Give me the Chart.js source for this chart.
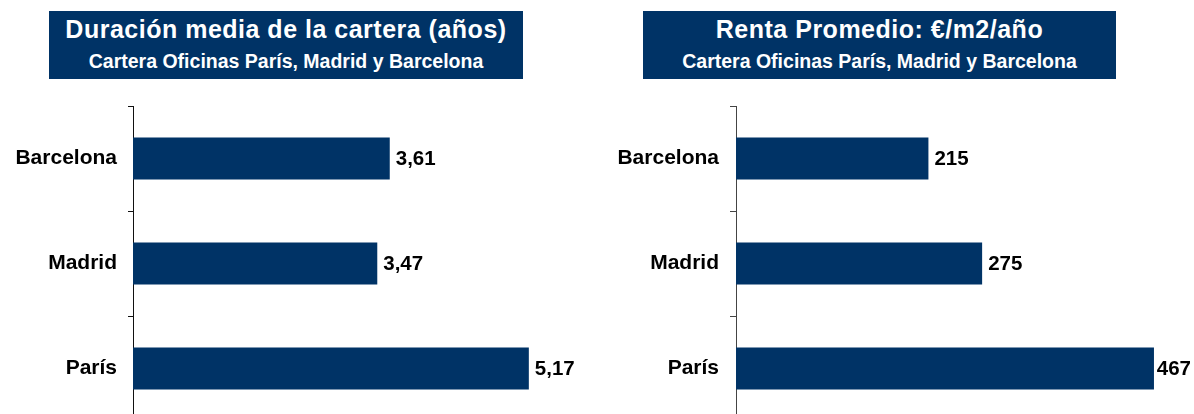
<!DOCTYPE html>
<html>
<head>
<meta charset="utf-8">
<script src="https://cdn.jsdelivr.net/npm/chart.js@4/dist/chart.umd.min.js"></script>
<style>
    html, body {
        margin: 0;
        width: 1194px;
        height: 414px;
        overflow: hidden;
        background: #fff;
        font-family: 'Liberation Sans', Arial, sans-serif;
    }
    .panel {
        position: absolute;
        top: 0;
        width: 597px;
        height: 430px;
    }
    .title-box {
        position: absolute;
        top: 11px;
        height: 68px;
        background: #003366;
        color: #fff;
        font-weight: bold;
        text-align: center;
        z-index: 2;
    }
    .title-box .main {
        padding-top: 3px;
        font-size: 25px;
        line-height: 30px;
        letter-spacing: 0.5px;
    }
    .title-box .sub {
        font-size: 19.5px;
        line-height: 34px;
    }
</style>
</head>
<body>
<div class="title-box" style="left: 49px; width: 474px;">
    <div class="main">Duración media de la cartera (años)</div>
    <div class="sub">Cartera Oficinas París, Madrid y Barcelona</div>
</div>
<div class="title-box" style="left: 643px; width: 473px;">
    <div class="main">Renta Promedio: €/m2/año</div>
    <div class="sub">Cartera Oficinas París, Madrid y Barcelona</div>
</div>

<div class="panel" style="left: 0;"><canvas id="duracion"></canvas></div>
<div class="panel" style="left: 597px;"><canvas id="renta"></canvas></div>

<script>
    const ciudades = ['Barcelona', 'Madrid', 'París']
    const duracionAnos = [3.61, 3.47, 5.17]
    const rentaEurM2 = [215, 275, 467]

    const azul = '#003366'
    const fuente = "'Liberation Sans', Arial, sans-serif"

    Chart.defaults.animation = false
    Chart.defaults.font.family = fuente

    // etiquetas de valor al final de cada barra
    const valueLabels = {
        id: 'valueLabels',
        afterDatasetsDraw(chart, args, opts) {
            const ctx = chart.ctx
            const meta = chart.getDatasetMeta(0)
            const values = chart.data.datasets[0].data

            ctx.save()
            ctx.font = 'bold 20.5px ' + fuente
            ctx.fillStyle = '#000'
            ctx.textBaseline = 'middle'
            ctx.textAlign = 'left'

            meta.data.forEach((bar, i) => {
                const text = opts.format(values[i])
                const w = ctx.measureText(text).width
                const x = Math.min(bar.x + 6, chart.width - w - 3)
                ctx.fillText(text, x, bar.y + 1)
            })

            ctx.restore()
        },
    }

    function barChart(id, values, opts) {
        return new Chart(document.getElementById(id), {
            type: 'bar',
            data: {
                labels: ciudades,
                datasets: [{
                    data: values,
                    backgroundColor: azul,
                    borderWidth: 0,
                    categoryPercentage: 0.8,
                    barPercentage: 0.5,
                }],
            },
            options: {
                indexAxis: 'y',
                responsive: true,
                maintainAspectRatio: false,
                devicePixelRatio: 1,
                layout: {
                    padding: { top: 106, bottom: 9, left: 0, right: opts.padRight },
                },
                plugins: {
                    legend: { display: false },
                    tooltip: { enabled: false },
                    valueLabels: { format: opts.format },
                },
                scales: {
                    x: {
                        display: false,
                        min: opts.min,
                        max: opts.max,
                    },
                    y: {
                        afterFit: (scale) => {
                            // ancho fijo del eje y sin relleno extra arriba/abajo
                            scale.width = opts.axisWidth
                            scale.paddingTop = 0
                            scale.paddingBottom = 0
                        },
                        border: { display: true, color: opts.axisColor, width: 1 },
                        grid: {
                            offset: true,
                            drawOnChartArea: false,
                            drawTicks: true,
                            tickLength: opts.tickLength,
                            color: opts.axisColor,
                        },
                        ticks: {
                            autoSkip: false,
                            padding: opts.labelPad,
                            color: '#000',
                            font: { size: 21, weight: 'bold' },
                        },
                    },
                },
            },
            plugins: [valueLabels],
        })
    }

    barChart('duracion', duracionAnos, {
        min: 0.73,
        max: 5.8,
        padRight: 12,
        axisWidth: 133,
        axisColor: '#111',
        tickLength: 5,
        labelPad: 11,
        format: (v) => v.toFixed(2).replace('.', ','),
    })

    barChart('renta', rentaEurM2, {
        min: 0,
        max: 500,
        padRight: 10.5,
        axisWidth: 139,
        axisColor: '#444',
        tickLength: 6,
        labelPad: 11,
        format: (v) => String(v),
    })
</script>
</body>
</html>
